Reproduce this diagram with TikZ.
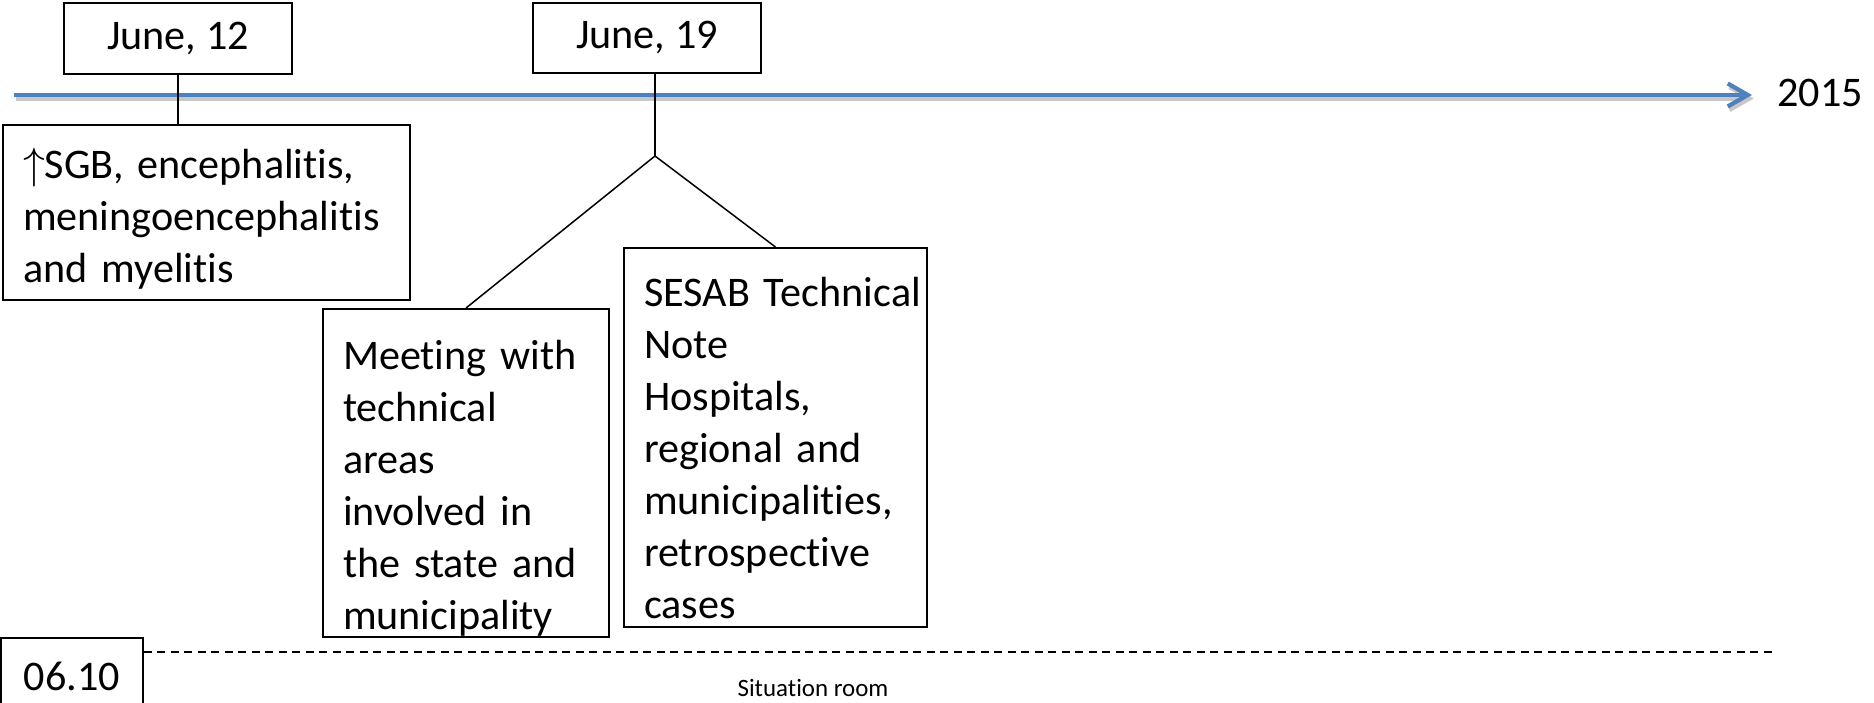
\documentclass[tikz,border=0pt]{standalone}
\usepackage{fontspec}
\setmainfont{Carlito}[Ligatures=NoCommon]
\usetikzlibrary{arrows.meta,positioning,calc}

\definecolor{tlblue}{RGB}{79,129,189}

\begin{document}
\begin{tikzpicture}[
        x=0.02cm, y=-0.02cm,
        every node/.append style={font=\fontsize{24}{29.6}\selectfont}
    ]

    \tikzstyle{datebox} = [rectangle,draw,line width=0.04cm,minimum width=4.56cm,minimum height=1.42cm,inner sep=0pt]
    \tikzstyle{notebox} = [rectangle,draw,line width=0.04cm,align=left,inner xsep=0.4cm,inner ysep=0pt]
    \tikzstyle{link} = [line width=0.03cm]
    \tikzstyle{timeline} = [line width=0.085cm,-{Straight Barb[length=0.4cm,width=0.46cm]}]
    \tikzstyle{roomline} = [line width=0.03cm,dash pattern=on 0.16cm off 0.11cm]

    \useasboundingbox (0,0) rectangle (1874,703);

    % time axis
    \coordinate (tl start) at (14,95);
    \coordinate (tl end) at (1752,95);
    \draw[timeline,black!22] ([xshift=1pt,yshift=-2pt]tl start) -- ([xshift=1pt,yshift=-2pt]tl end);
    \draw[timeline,tlblue] (tl start) -- (tl end);
    \node (year) at (1820,93) {2015};

    \node[datebox] (jun12) at (178,38.5) {June, 12};
    \node[datebox] (jun19) at (647,38) {June, 19};

    \node[notebox,text width=7.34cm,minimum height=3.5cm,text height=1.06cm,text depth=2.44cm] (sgb) at (206.5,212.5)
        {$\uparrow$SGB, encephalitis,\\meningoencephalitis\\and myelitis};
    \node[notebox,text width=4.92cm,minimum height=6.56cm,text height=1.21cm,text depth=5.35cm] (meeting) at (466,473)
        {Meeting with\\technical\\areas\\involved in\\the state and\\municipality};
    \node[notebox,text width=5.26cm,minimum height=7.58cm,text height=1.17cm,text depth=6.41cm] (sesab) at (775.5,437.5)
        {\mbox{SESAB Technical}\\Note\\Hospitals,\\regional and\\municipalities,\\retrospective\\cases};

    \coordinate (fork) at (655,156);
    \path[link]
        (jun12.south) edge (jun12.south |- sgb.north)
        (jun19.south -| fork) edge (fork)
        (fork) edge (meeting.north)
        (fork) edge (sesab.north)
    ;

    % situation room
    \node[datebox,minimum width=2.84cm,minimum height=1.52cm] (sit) at (72,676) {06.10};
    \coordinate (room end) at (1775,652);
    \draw[roomline] (room end -| sit.east) -- (room end);
    \node[font=\fontsize{14.2}{17}\selectfont] (room) at (813,688) {Situation room};

\end{tikzpicture}
\end{document}
